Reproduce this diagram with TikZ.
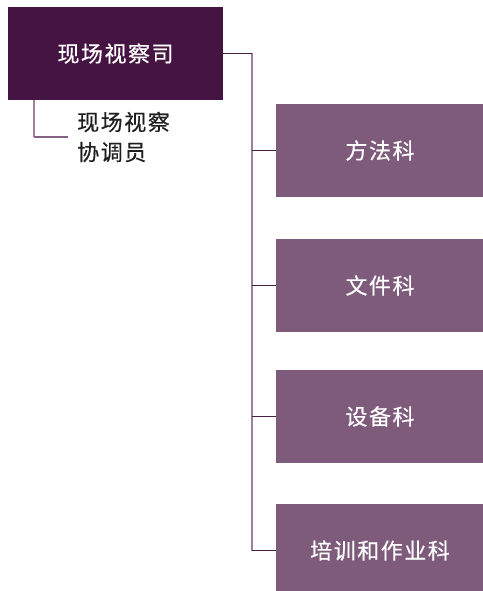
\documentclass[tikz,border=0pt]{standalone}
\usepackage{fontspec}
\setmainfont{Noto Sans CJK SC}[FakeBold=0.4,LetterSpace=7]
\usepackage{tikz}
\usetikzlibrary{positioning,calc}
\definecolor{pourpreSite}{RGB}{70,20,67}
\definecolor{mauveSect}{RGB}{126,91,123}
\definecolor{traitFonce}{RGB}{75,29,71}
\definecolor{traitClair}{RGB}{158,127,156}
\colorlet{TexteCoord}{black!88}

\begin{document}
\begin{tikzpicture}[x=1pt,y=-1pt,
    sitebox/.style={fill=pourpreSite,text=white,minimum width=215pt,minimum height=93pt,inner sep=0pt,font=\fontsize{22}{30}\selectfont},
    sectbox/.style={fill=mauveSect,text=white,minimum width=208pt,minimum height=93pt,inner sep=0pt,font=\fontsize{22}{30}\selectfont},
    vlien/.style={traitClair,line width=1.5pt},
    hlien/.style={traitFonce,line width=1.5pt}]
        \useasboundingbox (0,0) rectangle (482,591);
        \node[sitebox] (site) at (115.5,53.5) {现场视察司};
        % sections
        \foreach \i/\y/\lab in {1/150.5/方法科,2/285.5/文件科,3/416.5/设备科,4/550.5/培训和作业科}{
          \node[sectbox] (sect\i) at (380,\y) {\lab};
        }
        \coordinate (tronc) at (252,53.5);
        \draw[vlien] (tronc) -- (tronc |- sect4.west);
        \draw[hlien] (site.east) -- (tronc);
        \foreach \i in {1,...,4}{
          \draw[hlien] (tronc |- sect\i.west) -- (sect\i.west);
        }
        % coordinateur
        \node[anchor=west,align=left,inner xsep=9pt,inner ysep=0pt,text=TexteCoord,font=\fontsize{22}{30}\selectfont] (coord) at (68,137) {现场视察\\协调员};
        \coordinate (pied) at (34,100);
        \draw[vlien] (pied) -- (pied |- coord.west);
        \draw[traitClair!70!traitFonce,line width=1.5pt] (pied |- coord.west) -- (coord.west);
      \end{tikzpicture}
\end{document}
